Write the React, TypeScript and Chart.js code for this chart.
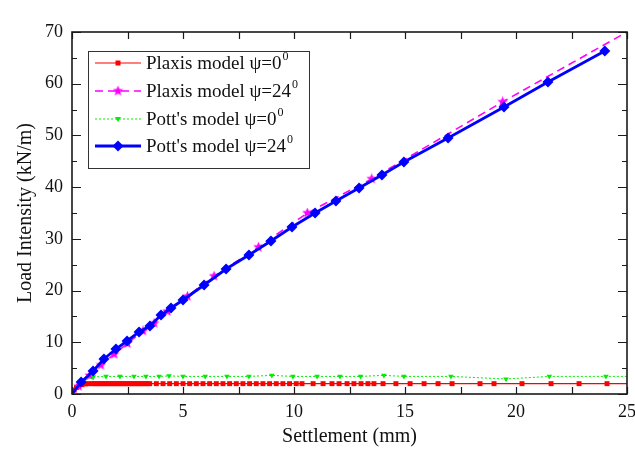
import React, { useEffect, useRef } from 'react';
import { Chart, registerables } from 'chart.js';
Chart.register(...registerables);

// ---- Data ----
const pott24X = [0, 0.41, 0.95, 1.44, 1.98, 2.48, 3.02, 3.51, 4.01, 4.46, 5.0, 5.95, 6.94, 7.97, 8.96, 9.91, 10.95, 11.89, 12.93, 13.96, 14.95, 16.94, 19.46, 21.44, 24.0];
const pott24Y = [0, 2.3, 4.45, 6.77, 8.7, 10.25, 11.99, 13.15, 15.28, 16.63, 18.18, 21.08, 24.17, 26.88, 29.59, 32.3, 35.0, 37.32, 39.84, 42.35, 44.87, 49.5, 55.5, 60.34, 66.33];

const plaxis24X = [0, 0.3, 0.8, 1.3, 1.9, 2.5, 3.2, 3.7, 4.3, 5.2, 6.4, 8.4, 10.6, 13.5, 19.4, 25.0];
const plaxis24Y = [0, 1.5, 3.6, 5.6, 7.7, 9.8, 12.2, 13.7, 16.0, 18.9, 22.8, 28.4, 35.0, 41.6, 56.5, 70.0];

const pott0X = [0, 0.44, 0.96, 1.53, 2.16, 2.79, 3.33, 3.92, 4.37, 5.0, 6.0, 6.98, 7.97, 9.0, 9.95, 11.04, 12.07, 13.0, 14.05, 14.95, 17.07, 19.55, 21.5, 24.05, 25];
const pott0Y = [0, 2.4, 3.3, 3.4, 3.4, 3.4, 3.4, 3.4, 3.5, 3.4, 3.4, 3.4, 3.4, 3.6, 3.4, 3.4, 3.4, 3.4, 3.6, 3.4, 3.4, 2.9, 3.4, 3.4, 3.4];

const plaxis0X = [
  0, 0.1, 0.2, 0.3, 0.45, 0.6, 0.75,
  0.9, 1.0, 1.1, 1.2, 1.3, 1.4, 1.5, 1.6, 1.7, 1.8, 1.9, 2.0, 2.1, 2.2, 2.3, 2.4, 2.5, 2.6, 2.7, 2.8, 2.9, 3.0, 3.1, 3.2, 3.3, 3.4, 3.5,
  3.8, 4.1, 4.4, 4.7, 5.0, 5.3, 5.6, 5.9, 6.2, 6.5, 6.8, 7.1, 7.4, 7.7, 8.0, 8.3, 8.6, 8.9, 9.2, 9.5, 9.8, 10.1,
  10.36, 10.86, 11.31, 11.71, 12.03, 12.39, 12.70, 13.02, 13.33, 13.60, 14.01, 14.59, 15.23, 15.86, 16.49, 17.12, 18.38, 19.01, 20.27, 21.58, 22.84, 24.1, 25,
];
const plaxis0Y = [
  0, 0.75, 1.25, 1.55, 1.8, 1.95, 2.0,
  2.0, 2.0, 2.0, 2.0, 2.0, 2.0, 2.0, 2.0, 2.0, 2.0, 2.0, 2.0, 2.0, 2.0, 2.0, 2.0, 2.0, 2.0, 2.0, 2.0, 2.0, 2.0, 2.0, 2.0, 2.0, 2.0, 2.0,
  2.0, 2.0, 2.0, 2.0, 2.0, 2.0, 2.0, 2.0, 2.0, 2.0, 2.0, 2.0, 2.0, 2.0, 2.0, 2.0, 2.0, 2.0, 2.0, 2.0, 2.0, 2.0,
  2.0, 2.0, 2.0, 2.0, 2.0, 2.0, 2.0, 2.0, 2.0, 2.0, 2.0, 2.0, 2.0, 2.0, 2.0, 2.0, 2.0, 2.0, 2.0, 2.0, 2.0, 2.0, 2.0,
];

const legendLabels = ['Plaxis model \u03C8=0', 'Plaxis model \u03C8=24', "Pott's model \u03C8=0", "Pott's model \u03C8=24"];
const legendSup = '0';
const xTitle = 'Settlement (mm)';
const yTitle = 'Load Intensity (kN/m)';
const xMin = 0, xMax = 25, xStep = 5, xTickStep = 2.5;
const yMin = 0, yMax = 70, yStep = 10, yMinorStep = 5;

const FONT = '"Liberation Serif", "Times New Roman", serif';
const RED = '#ff0000', MAGENTA = '#ff00ff', GREEN = '#00ee00', BLUE = '#0000ff';

function makeStar(size: number, color: string) {
  const c = document.createElement('canvas');
  c.width = size; c.height = size;
  const g = c.getContext('2d')!;
  const cx = size / 2, cy = size / 2, R = size / 2, r = R * 0.45;
  g.beginPath();
  for (let i = 0; i < 10; i++) {
    const rad = (i % 2 === 0 ? R : r);
    const a = -Math.PI / 2 + (i * Math.PI) / 5;
    const px = cx + rad * Math.cos(a), py = cy + rad * Math.sin(a);
    if (i === 0) g.moveTo(px, py); else g.lineTo(px, py);
  }
  g.closePath();
  g.fillStyle = color;
  g.fill();
  return c;
}

const pts = (xs: number[], ys: number[]) => xs.map((x, i) => ({ x, y: ys[i] }));

export default function App() {
  const ref = useRef<HTMLCanvasElement>(null);
  useEffect(() => {
    const star = makeStar(11, MAGENTA);

    const drawMarker = (ctx: CanvasRenderingContext2D, kind: string, x: number, y: number, color: string) => {
      ctx.fillStyle = color;
      ctx.beginPath();
      if (kind === 'rect') {
        ctx.rect(x - 2.5, y - 2.5, 5, 5);
      } else if (kind === 'diamond') {
        ctx.moveTo(x, y - 5.5); ctx.lineTo(x + 5.5, y); ctx.lineTo(x, y + 5.5); ctx.lineTo(x - 5.5, y); ctx.closePath();
      } else if (kind === 'tri') {
        ctx.moveTo(x - 3, y - 2); ctx.lineTo(x + 3, y - 2); ctx.lineTo(x, y + 3); ctx.closePath();
      } else if (kind === 'star') {
        ctx.drawImage(star, x - star.width / 2, y - star.height / 2);
        return;
      }
      ctx.fill();
    };

    const framePlugin = {
      id: 'frameTicks',
      afterDatasetsDraw(chart: any) {
        const { ctx, chartArea } = chart;
        const { left, right, top, bottom } = chartArea;
        const xs = chart.scales.x, ys = chart.scales.y;
        ctx.save();
        ctx.strokeStyle = '#1a1a1a';
        ctx.lineWidth = 1.2;
        for (let v = xMin; v <= xMax + 1e-9; v += xTickStep) {
          const px = Math.round(xs.getPixelForValue(v)) + 0.5;
          ctx.beginPath();
          ctx.moveTo(px, bottom); ctx.lineTo(px, bottom - 7);
          ctx.moveTo(px, top); ctx.lineTo(px, top + 7);
          ctx.stroke();
        }
        for (let v = yMin; v <= yMax + 1e-9; v += yMinorStep) {
          const py = Math.round(ys.getPixelForValue(v)) + 0.5;
          const major = Math.abs(v % yStep) < 1e-9;
          const len = major ? 9 : 5;
          ctx.beginPath();
          ctx.moveTo(left, py); ctx.lineTo(left + len, py);
          ctx.moveTo(right, py); ctx.lineTo(right - len, py);
          ctx.stroke();
        }
        ctx.lineWidth = 1.6;
        ctx.strokeRect(left, top, right - left, bottom - top);

        // legend
        const bx = 88, by = 51, bw = 221, bh = 117;
        ctx.fillStyle = '#ffffff';
        ctx.fillRect(bx, by, bw, bh);
        ctx.lineWidth = 1;
        ctx.strokeStyle = '#333';
        ctx.strokeRect(bx + 0.5, by + 0.5, bw, bh);
        const rows = [63, 91, 119, 146];
        const styles = [
          { color: RED, width: 1.2, dash: [] as number[], marker: 'rect' },
          { color: MAGENTA, width: 1.6, dash: [8, 5], marker: 'star' },
          { color: GREEN, width: 1, dash: [2, 2], marker: 'tri' },
          { color: BLUE, width: 2.8, dash: [] as number[], marker: 'diamond' },
        ];
        rows.forEach((ry, i) => {
          const s = styles[i];
          ctx.save();
          ctx.strokeStyle = s.color;
          ctx.lineWidth = s.width;
          ctx.setLineDash(s.dash);
          ctx.beginPath();
          ctx.moveTo(95, ry); ctx.lineTo(141, ry);
          ctx.stroke();
          ctx.restore();
          drawMarker(ctx, s.marker, 118, ry, s.color);
          ctx.fillStyle = '#111';
          ctx.font = `19px ${FONT}`;
          ctx.textBaseline = 'middle';
          ctx.textAlign = 'left';
          ctx.fillText(legendLabels[i], 146, ry + 1);
          const w = ctx.measureText(legendLabels[i]).width;
          ctx.font = `12px ${FONT}`;
          ctx.fillText(legendSup, 146 + w + 1, ry - 6);
        });
        ctx.restore();
      },
    };

    const chart = new Chart(ref.current!, {
      type: 'line',
      data: {
        datasets: [
          {
            label: legendLabels[3], data: pts(pott24X, pott24Y), borderColor: BLUE, backgroundColor: BLUE,
            borderWidth: 2.8, pointStyle: 'rectRot', pointRadius: pott24X.map((_, i) => (i === 0 ? 0 : 5.5)),
            pointBorderWidth: 0, tension: 0,
          },
          {
            label: legendLabels[2], data: pts(pott0X, pott0Y), borderColor: GREEN, backgroundColor: GREEN,
            borderWidth: 1, borderDash: [2, 2], pointStyle: 'triangle', rotation: 180,
            pointRadius: pott0X.map((_, i) => (i === 0 || i === pott0X.length - 1 ? 0 : 3.2)), pointBorderWidth: 0, tension: 0,
          },
          {
            label: legendLabels[1], data: pts(plaxis24X, plaxis24Y), borderColor: MAGENTA, backgroundColor: MAGENTA,
            borderWidth: 1.6, borderDash: [8, 5], pointStyle: star as any,
            pointRadius: plaxis24X.map((_, i) => (i === 0 || i === plaxis24X.length - 1 ? 0 : 5)), pointBorderWidth: 0, tension: 0,
          },
          {
            label: legendLabels[0], data: pts(plaxis0X, plaxis0Y), borderColor: RED, backgroundColor: RED,
            borderWidth: 1.2, pointStyle: 'rect', pointRadius: plaxis0X.map((_, i) => (i === 0 || i === plaxis0X.length - 1 ? 0 : 3.5)),
            pointBorderWidth: 0, tension: 0,
          },
        ],
      },
      options: {
        animation: false,
        responsive: false,
        maintainAspectRatio: false,
        layout: { padding: { left: 0, top: 32, right: 8, bottom: 0 } },
        plugins: { legend: { display: false }, tooltip: { enabled: false } },
        scales: {
          x: {
            type: 'linear', min: xMin, max: xMax,
            grid: { display: false, drawTicks: false },
            border: { display: false },
            ticks: { stepSize: xStep, color: '#111', padding: 7, font: { family: FONT, size: 18 } },
            title: { display: true, text: xTitle, color: '#111', font: { family: FONT, size: 20 }, padding: { top: 0, bottom: 4 } },
            afterFit: (s: any) => { s.height = 59; s.paddingLeft = 0; s.paddingRight = 0; },
          },
          y: {
            type: 'linear', min: yMin, max: yMax,
            grid: { display: false, drawTicks: false },
            border: { display: false },
            ticks: { stepSize: yStep, color: '#111', padding: 9, font: { family: FONT, size: 18 } },
            title: { display: true, text: yTitle, color: '#111', font: { family: FONT, size: 20 }, padding: { top: 14, bottom: 0 } },
            afterFit: (s: any) => { s.width = 72; s.paddingTop = 0; s.paddingBottom = 0; },
          },
        },
      },
      plugins: [framePlugin],
    });
    return () => chart.destroy();
  }, []);
  return (
    <div style={{ position: 'absolute', left: 0, top: 0, width: 635, height: 453, background: '#fff' }}>
      <canvas ref={ref} width={635} height={453} style={{ width: 635, height: 453, display: 'block' }} />
    </div>
  );
}
